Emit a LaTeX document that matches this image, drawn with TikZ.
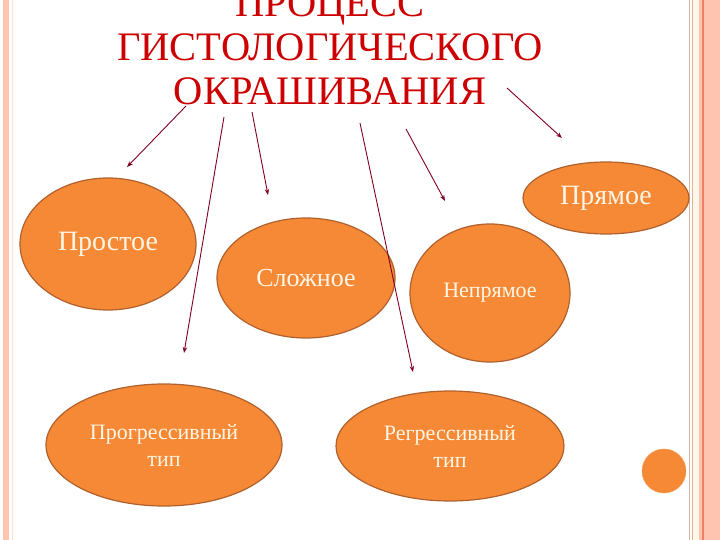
\documentclass[tikz,border=0pt]{standalone}
\usepackage{fontspec}
\setmainfont{Liberation Serif}
\usetikzlibrary{shapes.geometric,arrows.meta}
\definecolor{titlered}{RGB}{204,0,0}
\definecolor{arrowred}{RGB}{128,0,32}
\definecolor{ovalfill}{RGB}{245,137,54}
\definecolor{ovaldraw}{RGB}{176,96,44}
\definecolor{ovaltext}{RGB}{255,246,230}
\definecolor{edgepink}{RGB}{255,196,176}
\definecolor{edgeline}{RGB}{240,128,100}
\definecolor{edgecream}{RGB}{255,248,232}
\definecolor{edgetan}{RGB}{222,180,160}

\begin{document}
\begin{tikzpicture}[x=1pt,y=-1pt]
                    \tikzstyle{myoval}=[ellipse,draw=ovaldraw,line width=1.2pt,fill=ovalfill,text=ovaltext,inner sep=0pt,align=center]
                    \tikzstyle{myarrow}=[arrowred,line width=0.9pt,-{Stealth[length=6pt,width=4.5pt]}]
                    \useasboundingbox (0,0) rectangle (720,540);
                    \clip (0,0) rectangle (720,540);
                    % page edges
                    \fill[edgepink] (3,0) rectangle (9,540);
                    \draw[edgepink!50,line width=0.6pt] (12,0) -- (12,540);
                    \draw[edgetan,line width=0.8pt] (689,0) -- (689,540);
                    \fill[edgecream] (692,0) rectangle (699,540);
                    \draw[edgetan,line width=0.6pt] (692,0) -- (692,540);
                    \fill[edgepink] (699,0) rectangle (720,540);
                    \draw[edgeline,line width=1.2pt] (703,0) -- (703,540);
                    % title
                    \node[text=titlered,font=\fontsize{40.5}{44}\selectfont,align=center] (title) at (330,47.5) {ПРОЦЕСС\\ГИСТОЛОГИЧЕСКОГО\\ОКРАШИВАНИЯ};
                    % ovals
                    \node[myoval,minimum width=176pt,minimum height=132pt,font=\fontsize{28}{34}\selectfont] (prost) at (108,244) {Простое};
                    \node[myoval,minimum width=178pt,minimum height=120pt,font=\fontsize{26}{31}\selectfont] (slozh) at (306,278) {Сложное};
                    \node[myoval,minimum width=166pt,minimum height=72pt,font=\fontsize{28}{34}\selectfont] (pryam) at (606,198) {Прямое};
                    \node[myoval,minimum width=160pt,minimum height=138pt,font=\fontsize{22}{27}\selectfont] (nepryam) at (490,293) {Непрямое};
                    \node[myoval,minimum width=236pt,minimum height=122pt,font=\fontsize{22}{27}\selectfont] (progr) at (164,445) {Прогрессивный\\тип};
                    \node[myoval,minimum width=228pt,minimum height=110pt,font=\fontsize{22}{27}\selectfont] (regr) at (450,446) {Регрессивный\\тип};
                    \node[circle,fill=ovalfill,draw=ovalfill!85!white,minimum size=44pt,inner sep=0pt] (dot) at (664,471) {};
                    % arrows
                    \coordinate (a1) at (186,106); \coordinate (b1) at (127,167);
                    \coordinate (a2) at (224,117); \coordinate (b2) at (184,353);
                    \coordinate (a3) at (252,112); \coordinate (b3) at (268,195);
                    \coordinate (a4) at (360,123); \coordinate (b4) at (413,372);
                    \coordinate (a5) at (406,129); \coordinate (b5) at (445,201);
                    \coordinate (a6) at (507,88);  \coordinate (b6) at (562,138);
                    \draw[myarrow] (a1) -- (b1);
                    \draw[myarrow] (a2) -- (b2);
                    \draw[myarrow] (a3) -- (b3);
                    \draw[myarrow] (a4) -- (b4);
                    \draw[myarrow] (a5) -- (b5);
                    \draw[myarrow] (a6) -- (b6);
                \end{tikzpicture}
\end{document}
